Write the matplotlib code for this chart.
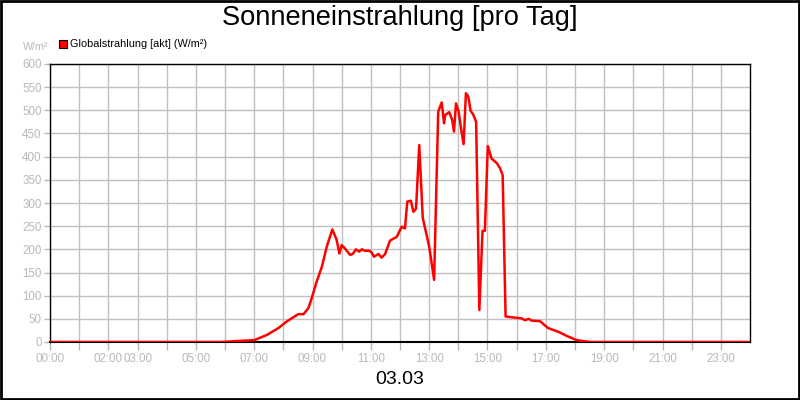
import matplotlib
matplotlib.use("Agg")
import matplotlib.pyplot as plt
from matplotlib.patches import Rectangle

hours = [0.0, 5.83, 7.0, 7.43, 7.83, 8.11, 8.51, 8.69, 8.86, 8.97, 9.14, 9.32, 9.49,
         9.68, 9.83, 9.92, 10.0, 10.11, 10.29, 10.38, 10.49, 10.60, 10.69, 10.80,
         10.95, 11.03, 11.11, 11.26, 11.37, 11.49, 11.66, 11.89, 12.06, 12.17, 12.25,
         12.37, 12.46, 12.55, 12.66, 12.78, 13.0, 13.17, 13.31, 13.43, 13.51, 13.55,
         13.69, 13.79, 13.85, 13.92, 14.01, 14.10, 14.18, 14.26, 14.34, 14.42, 14.51,
         14.61, 14.72, 14.83, 14.91, 15.01, 15.14, 15.32, 15.43, 15.52, 15.62, 15.88,
         16.17, 16.29, 16.40, 16.52, 16.80, 16.91, 17.08, 17.43, 17.72, 18.06, 18.40,
         18.58, 24.0]
values = [0, 0, 4, 15, 30, 44, 60, 60, 73, 94, 130, 162, 206,
          243, 220, 191, 209, 202, 188, 190, 200, 195, 200, 197,
          197, 193, 184, 190, 182, 190, 219, 227, 249, 245, 303,
          305, 281, 288, 425, 268, 206, 134, 497, 517, 472, 490,
          496, 479, 454, 515, 497, 458, 427, 537, 530, 499, 491,
          475, 69, 240, 240, 423, 396, 386, 375, 360, 55, 53,
          51, 47, 50, 46, 45, 39, 30, 22, 13, 4, 1,
          0, 0]

tick_hours = list(range(0, 24))
label_hours = [0, 2, 3, 5, 7, 9, 11, 13, 15, 17, 19, 21, 23]
y_ticks = list(range(0, 601, 50))

title = "Sonneneinstrahlung [pro Tag]"
date_label = "03.03"
series_name = "Globalstrahlung [akt] (W/m²)"
unit = "W/m²"

plt.rcParams['font.family'] = ['Liberation Sans', 'DejaVu Sans']
gray = '#b8b8b8'

fig = plt.figure(figsize=(8, 4), dpi=100)
fig.patch.set_facecolor('white')
ax = fig.add_axes([50/800, 1-342/400, 700/800, 278/400])

ax.plot(hours, values, color='#ff0000', linewidth=1.8, solid_joinstyle='round', zorder=3)
ax.set_xlim(0, 24)
ax.set_ylim(0, 600)
ax.set_xticks(tick_hours)
ax.set_xticklabels(["%02d:00" % h if h in label_hours else "" for h in tick_hours])
ax.set_yticks(y_ticks)
ax.set_yticklabels([str(v) for v in y_ticks])
ax.grid(True, color='#c0c0c0', linewidth=1.0, zorder=0)
ax.set_axisbelow(True)
ax.tick_params(axis='both', colors=gray, labelcolor=gray, labelsize=8.3, width=1)
ax.tick_params(axis='x', length=6, pad=2)
ax.tick_params(axis='y', length=4, pad=2)
for s in ax.spines.values():
    s.set_color('black')
    s.set_linewidth(1.0)
ax.spines['bottom'].set_linewidth(1.5)

fig.text(0.5, 1-18/400, title, ha='center', va='center', fontsize=19.6, color='black')
fig.text(0.5, 1-380/400, date_label, ha='center', va='center', fontsize=14, color='black')
fig.text(48/800, 1-47/400, unit, ha='right', va='center', fontsize=7.7, color=gray)
fig.patches.append(Rectangle((59/800, 1-48/400), 8/800, 8/400, transform=fig.transFigure,
                             facecolor='#ff0000', edgecolor='black', linewidth=0.8))
fig.text(70/800, 1-44/400, series_name, ha='left', va='center', fontsize=7.8, color='black')
fig.patches.append(Rectangle((0.001, 0.002), 0.998, 0.996, transform=fig.transFigure,
                             facecolor='none', edgecolor='black', linewidth=2))

fig.savefig('out.png', dpi=100)
